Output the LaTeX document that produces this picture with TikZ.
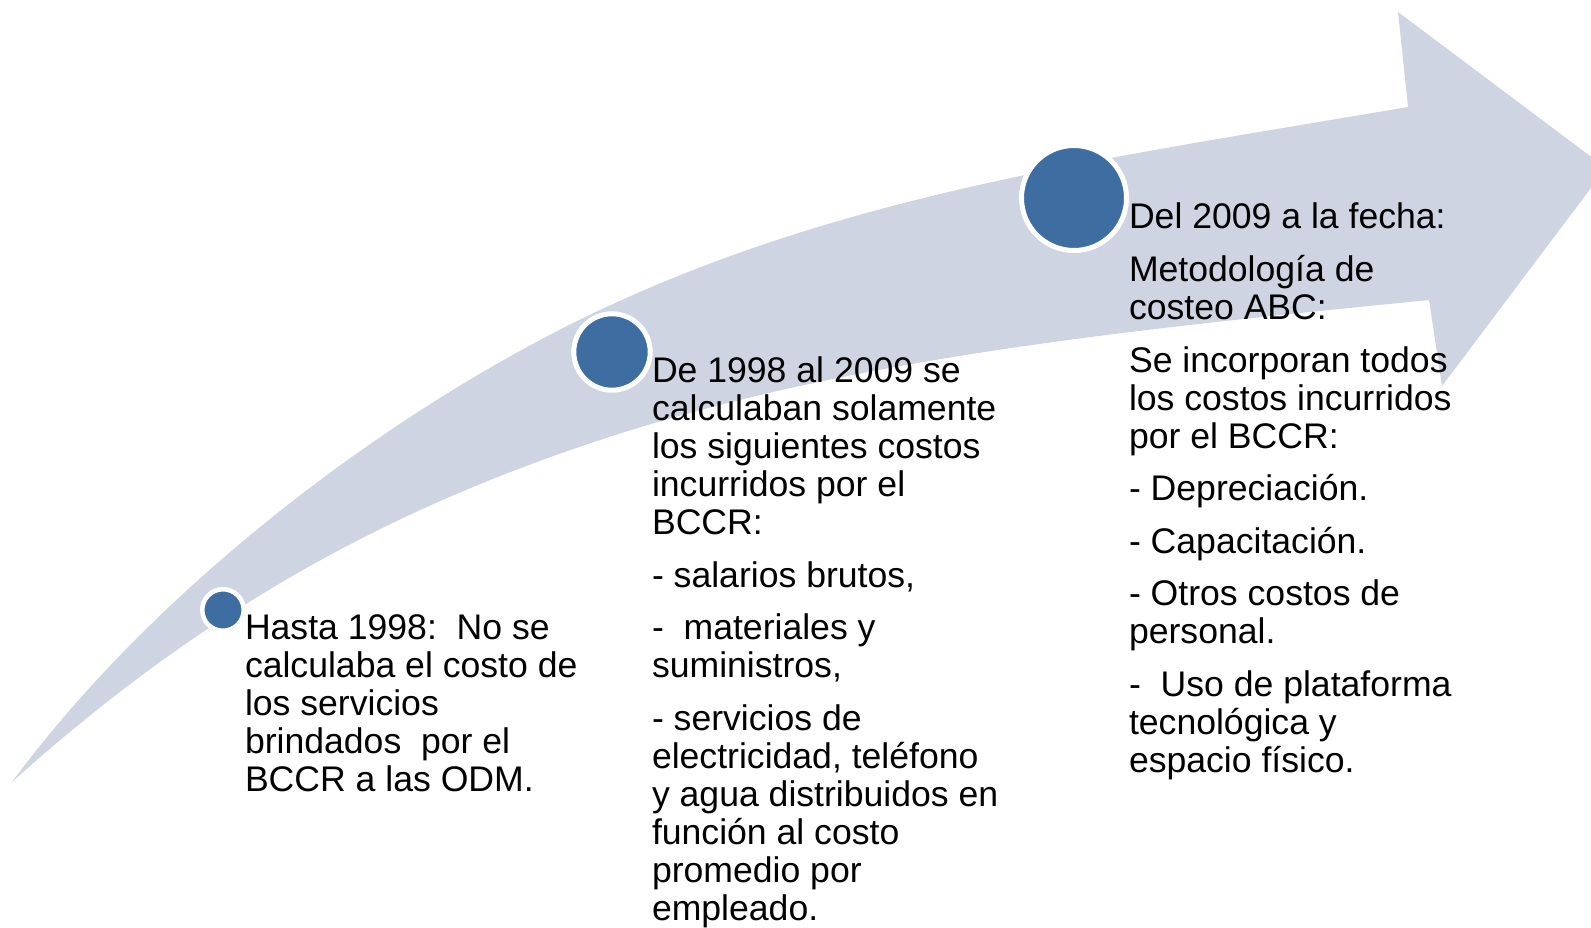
\documentclass[tikz,border=0pt]{standalone}
\usepackage{fontspec}
\setmainfont{Liberation Sans}
\definecolor{bandcol}{RGB}{206,212,226}
\definecolor{dotblue}{RGB}{62,109,162}
\begin{document}
\begin{tikzpicture}[x=1pt,y=-1pt,
  txt/.style={anchor=base west,inner sep=0pt,outer sep=0pt,
    font=\fontsize{35.6}{38}\selectfont\frenchspacing,text=black},
  dot/.style={circle,fill=dotblue,draw=white,inner sep=0pt}]
\useasboundingbox (0,0) rectangle (1591,928);
\begin{scope}
\clip (0,0) rectangle (1591,928);
\fill[bandcol] (12,782)
  .. controls (162,579.5) and (400,404) .. (600,310)
  .. controls (850,192.5) and (1108,158) .. (1408,107)
  -- (1398,12) -- (1606,168) -- (1442,386) -- (1429,300)
  .. controls (1129,330) and (850,357.5) .. (600,440)
  .. controls (400,506) and (212,602) .. (12,782)
  -- cycle;
\end{scope}
\node[dot,minimum size=41.5pt,line width=4.5pt] (c1) at (223,610) {};
\node[dot,minimum size=76.4pt,line width=5pt] (c2) at (612,352) {};
\node[dot,minimum size=105pt,line width=5pt] (c3) at (1074,198) {};
% block 1
\foreach \y/\t [count=\i] in {639/{Hasta 1998:\ \ No se},677/{calculaba el costo de},715/{los servicios},753/{brindados\ \ por el},791/{BCCR a las ODM.}}
  {\node[txt] (a\i) at (245,\y) {\t};}
% block 2
\foreach \y/\t [count=\i] in {382.5/{De 1998 al 2009 se},420.5/{calculaban solamente},458.5/{los siguientes costos},496.5/{incurridos por el},534.5/{BCCR:},587/{- salarios brutos,},639.5/{-\ \ materiales y},677.5/{suministros,},730/{- servicios de},768/{electricidad, teléfono},806/{y agua distribuidos en},844/{función al costo},882/{promedio por},920/{empleado.}}
  {\node[txt] (b\i) at (652,\y) {\t};}
% block 3
\foreach \y/\t [count=\i] in {229/{Del 2009 a la fecha:},281.5/{Metodología de},319.5/{costeo ABC:},372/{Se incorporan todos},410/{los costos incurridos},448/{por el BCCR:},500.5/{- Depreciación.},553/{- Capacitación.},605.5/{- Otros costos de},643.5/{personal.},696/{-\ \ Uso de plataforma},734/{tecnológica y},772/{espacio físico.}}
  {\node[txt] (d\i) at (1129,\y) {\t};}
\end{tikzpicture}
\end{document}
